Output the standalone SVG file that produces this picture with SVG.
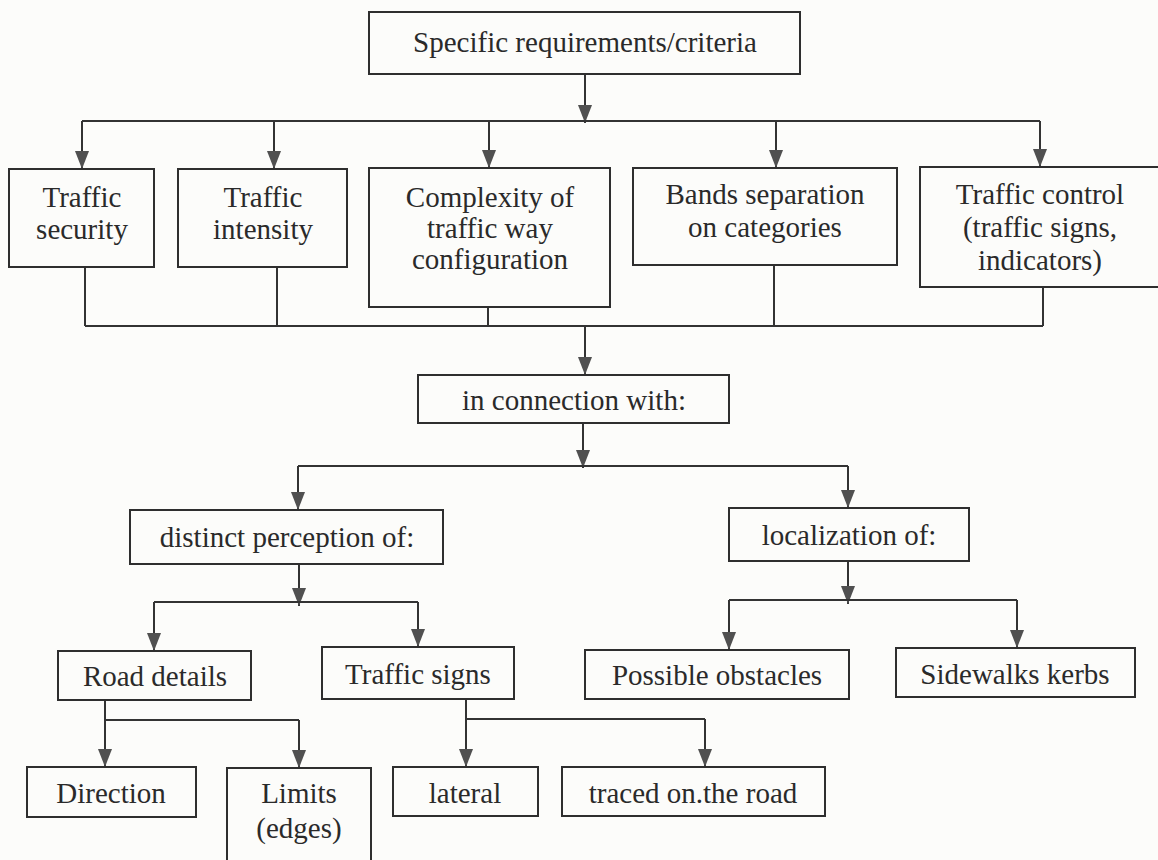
<svg xmlns="http://www.w3.org/2000/svg" width="1158" height="860" viewBox="0 0 1158 860">
<style>
.box{fill:none;stroke:#2e2e2e;stroke-width:2}
.t{font-family:"Liberation Serif","Times New Roman",serif;font-size:29px;fill:#2a2a2a;text-anchor:middle}
.ln{fill:none;stroke:#333;stroke-width:2}
.ar{fill:none;stroke:#333;stroke-width:2;marker-end:url(#arr)}
</style>
<defs>
<marker id="arr" markerUnits="userSpaceOnUse" markerWidth="18" markerHeight="14" refX="18" refY="7" orient="auto" viewBox="0 0 18 14">
<path d="M0,0 L18,7 L0,14 z" fill="#505050"/>
</marker>
</defs>
<rect x="0" y="0" width="1158" height="860" fill="#fcfcfa"/>
<g id="connectors">
<line class="ar" x1="585" y1="74" x2="585" y2="123"/>
<line class="ln" x1="82" y1="121" x2="1040" y2="121"/>
<line class="ar" x1="82" y1="121" x2="82" y2="169"/>
<line class="ar" x1="274" y1="121" x2="274" y2="169"/>
<line class="ar" x1="489" y1="121" x2="489" y2="168"/>
<line class="ar" x1="776" y1="121" x2="776" y2="168"/>
<line class="ar" x1="1040" y1="121" x2="1040" y2="167"/>
<line class="ln" x1="85" y1="267" x2="85" y2="326"/>
<line class="ln" x1="277" y1="267" x2="277" y2="326"/>
<line class="ln" x1="488" y1="307" x2="488" y2="326"/>
<line class="ln" x1="774" y1="265" x2="774" y2="326"/>
<line class="ln" x1="1043" y1="287" x2="1043" y2="326"/>
<line class="ln" x1="85" y1="326" x2="1043" y2="326"/>
<line class="ar" x1="585" y1="326" x2="585" y2="375"/>
<line class="ar" x1="583" y1="423" x2="583" y2="468"/>
<line class="ln" x1="298" y1="466" x2="848" y2="466"/>
<line class="ar" x1="298" y1="466" x2="298" y2="510"/>
<line class="ar" x1="848" y1="466" x2="848" y2="508"/>
<line class="ar" x1="299" y1="564" x2="299" y2="606"/>
<line class="ln" x1="154" y1="602" x2="418" y2="602"/>
<line class="ar" x1="154" y1="602" x2="154" y2="651"/>
<line class="ar" x1="418" y1="602" x2="418" y2="647"/>
<line class="ar" x1="848" y1="561" x2="848" y2="604"/>
<line class="ln" x1="729" y1="600" x2="1017" y2="600"/>
<line class="ar" x1="729" y1="600" x2="729" y2="650"/>
<line class="ar" x1="1017" y1="600" x2="1017" y2="648"/>
<line class="ar" x1="105" y1="700" x2="105" y2="767"/>
<line class="ln" x1="105" y1="720" x2="299" y2="720"/>
<line class="ar" x1="299" y1="720" x2="299" y2="768"/>
<line class="ar" x1="466" y1="699" x2="466" y2="767"/>
<line class="ln" x1="466" y1="719" x2="705" y2="719"/>
<line class="ar" x1="705" y1="719" x2="705" y2="767"/>
</g>
<g id="n-specific"><rect class="box" x="369" y="12" width="431" height="62"/><text class="t" x="585" y="52">Specific requirements/criteria</text></g>
<g id="n-security"><rect class="box" x="9" y="169" width="145" height="98"/><text class="t" x="82" y="207">Traffic</text><text class="t" x="82" y="239">security</text></g>
<g id="n-intensity"><rect class="box" x="178" y="169" width="169" height="98"/><text class="t" x="263" y="207">Traffic</text><text class="t" x="263" y="239">intensity</text></g>
<g id="n-complexity"><rect class="box" x="369" y="168" width="241" height="139"/><text class="t" x="490" y="207">Complexity of</text><text class="t" x="490" y="238">traffic way</text><text class="t" x="490" y="269">configuration</text></g>
<g id="n-bands"><rect class="box" x="633" y="168" width="264" height="97"/><text class="t" x="765" y="204">Bands separation</text><text class="t" x="765" y="237">on categories</text></g>
<g id="n-control"><rect class="box" x="920" y="167" width="245" height="120"/><text class="t" x="1040" y="204">Traffic control</text><text class="t" x="1040" y="237">(traffic signs,</text><text class="t" x="1040" y="270">indicators)</text></g>
<g id="n-connection"><rect class="box" x="418" y="375" width="311" height="48"/><text class="t" x="574" y="410">in connection with:</text></g>
<g id="n-distinct"><rect class="box" x="130" y="510" width="313" height="54"/><text class="t" x="287" y="547">distinct perception of:</text></g>
<g id="n-localization"><rect class="box" x="729" y="508" width="240" height="53"/><text class="t" x="849" y="545">localization of:</text></g>
<g id="n-road"><rect class="box" x="58" y="651" width="193" height="49"/><text class="t" x="155" y="686">Road details</text></g>
<g id="n-signs"><rect class="box" x="322" y="647" width="192" height="52"/><text class="t" x="418" y="684">Traffic signs</text></g>
<g id="n-obstacles"><rect class="box" x="585" y="650" width="264" height="49"/><text class="t" x="717" y="685">Possible obstacles</text></g>
<g id="n-sidewalks"><rect class="box" x="896" y="648" width="239" height="49"/><text class="t" x="1015" y="684">Sidewalks kerbs</text></g>
<g id="n-direction"><rect class="box" x="27" y="767" width="169" height="50"/><text class="t" x="111" y="803">Direction</text></g>
<g id="n-limits"><rect class="box" x="227" y="768" width="144" height="110"/><text class="t" x="299" y="803">Limits</text><text class="t" x="299" y="838">(edges)</text></g>
<g id="n-lateral"><rect class="box" x="393" y="767" width="145" height="49"/><text class="t" x="465" y="803">lateral</text></g>
<g id="n-traced"><rect class="box" x="562" y="767" width="263" height="49"/><text class="t" x="693" y="803">traced on.the road</text></g>
</svg>
